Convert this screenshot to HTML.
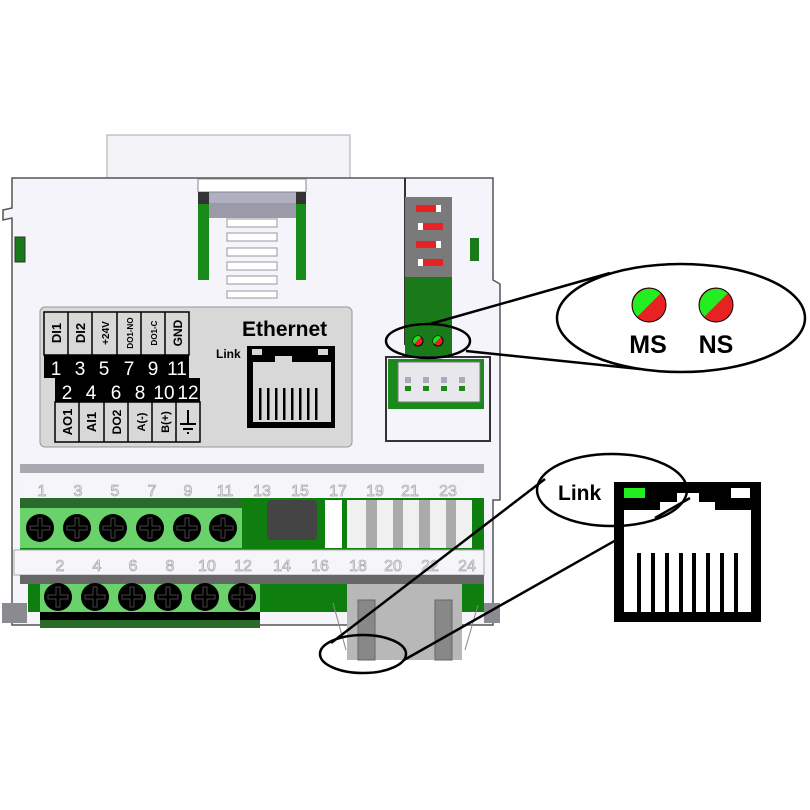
<!DOCTYPE html>
<html><head><meta charset="utf-8"><style>
html,body{margin:0;padding:0;background:#fff;}
svg{display:block;font-family:"Liberation Sans",sans-serif;}
</style></head><body>
<svg width="810" height="810" viewBox="0 0 810 810" xmlns="http://www.w3.org/2000/svg">
<defs>
<g id="sc"><circle r="14" fill="#000"/><path d="M-2,-10 H2 V-2 H10 V2 H2 V10 H-2 V2 H-10 V-2 H-2 Z" fill="none" stroke="#444" stroke-width="1"/></g>
</defs>
<rect x="107" y="135" width="243" height="44" fill="#f3f3f8" stroke="#aaa" stroke-width="1"/>
<path d="M12,178 H493 V280 L500,284 V500 L493,500 V625 H12 V218 L3,220 V210 L12,208 Z" fill="#f4f4fa" stroke="#555" stroke-width="1.5"/>
<line x1="405" y1="178" x2="405" y2="345" stroke="#333" stroke-width="2"/>
<rect x="15" y="237" width="10" height="25" fill="#1a7a1a" stroke="#333"/>
<rect x="470" y="238" width="9" height="23" fill="#1a7a1a"/>
<rect x="198" y="179" width="108" height="13" fill="#fff" stroke="#888"/>
<rect x="198" y="192" width="108" height="26" fill="#9a9aa8"/>
<rect x="209" y="193" width="87" height="10" fill="#b0b0c0"/>
<rect x="198" y="192" width="11" height="88" fill="#1a8a1a"/>
<rect x="296" y="192" width="10" height="88" fill="#1a8a1a"/>
<rect x="198" y="192" width="11" height="12" fill="#333"/>
<rect x="296" y="192" width="10" height="12" fill="#333"/>
<g fill="#fff" stroke="#999">
<rect x="227" y="219" width="50" height="8"/><rect x="227" y="233" width="50" height="8"/><rect x="227" y="248" width="50" height="8"/><rect x="227" y="262" width="50" height="8"/><rect x="227" y="276" width="50" height="8"/><rect x="227" y="291" width="50" height="7"/>
</g>
<rect x="405" y="197" width="47" height="80" fill="#7a7a7a"/>
<rect x="405" y="277" width="47" height="83" fill="#1a7a1a"/>
<g fill="#e82222"><rect x="416" y="205" width="20" height="7"/><rect x="423" y="223" width="20" height="7"/><rect x="416" y="241" width="20" height="7"/><rect x="423" y="259" width="20" height="7"/></g>
<g fill="#fff"><rect x="436" y="205" width="5" height="7"/><rect x="418" y="223" width="5" height="7"/><rect x="436" y="241" width="5" height="7"/><rect x="418" y="259" width="5" height="7"/></g>
<circle cx="418" cy="341" r="5" fill="#e82222" stroke="#000"/><circle cx="438" cy="341" r="5" fill="#e82222" stroke="#000"/>
<path d="M414,344 A5,5 0 0 1 421,337 Z" fill="#22dd22"/><path d="M434,344 A5,5 0 0 1 441,337 Z" fill="#22dd22"/>
<rect x="386" y="357" width="104" height="84" fill="#f4f4fa" stroke="#333" stroke-width="2"/>
<rect x="388" y="359" width="96" height="50" fill="#1a8a1a"/>
<rect x="398" y="362" width="82" height="40" fill="#e8e8ec" stroke="#777"/>
<g fill="#aab"><rect x="405" y="377" width="6" height="6"/><rect x="423" y="377" width="6" height="6"/><rect x="441" y="377" width="6" height="6"/><rect x="459" y="377" width="6" height="6"/></g>
<g fill="#1a8a1a"><rect x="405" y="386" width="6" height="5"/><rect x="423" y="386" width="6" height="5"/><rect x="441" y="386" width="6" height="5"/><rect x="459" y="386" width="6" height="5"/></g>
<rect x="40" y="307" width="312" height="140" rx="5" fill="#d8d8d8" stroke="#999"/>
<g stroke="#000" stroke-width="1.5" fill="#d8d8d8">
<rect x="44" y="312" width="145" height="43"/>
<rect x="55" y="402" width="145" height="40"/>
</g>
<rect x="44" y="355" width="145" height="23" fill="#000"/>
<rect x="55" y="378" width="145" height="24" fill="#000"/>
<g stroke="#000" stroke-width="1.5">
<line x1="68" y1="312" x2="68" y2="355"/><line x1="92" y1="312" x2="92" y2="355"/><line x1="117" y1="312" x2="117" y2="355"/><line x1="141" y1="312" x2="141" y2="355"/><line x1="165" y1="312" x2="165" y2="355"/>
<line x1="79" y1="402" x2="79" y2="442"/><line x1="104" y1="402" x2="104" y2="442"/><line x1="128" y1="402" x2="128" y2="442"/><line x1="152" y1="402" x2="152" y2="442"/><line x1="176" y1="402" x2="176" y2="442"/>
</g>
<g fill="#fff" font-size="19" text-anchor="middle">
<text x="56" y="375">1</text><text x="80" y="375">3</text><text x="104" y="375">5</text><text x="129" y="375">7</text><text x="153" y="375">9</text><text x="177" y="375">11</text>
<text x="67" y="399">2</text><text x="91" y="399">4</text><text x="116" y="399">6</text><text x="140" y="399">8</text><text x="164" y="399">10</text><text x="188" y="399">12</text>
</g>
<g font-weight="bold" font-size="13" text-anchor="middle">
<text transform="translate(61,333) rotate(-90)">DI1</text>
<text transform="translate(85,333) rotate(-90)">DI2</text>
<text transform="translate(109,333) rotate(-90)" font-size="10">+24V</text>
<text transform="translate(133,333) rotate(-90)" font-size="8">DO1-NO</text>
<text transform="translate(157,333) rotate(-90)" font-size="8">DO1-C</text>
<text transform="translate(182,333) rotate(-90)" font-size="12">GND</text>
<text transform="translate(72,422) rotate(-90)">AO1</text>
<text transform="translate(96,422) rotate(-90)">AI1</text>
<text transform="translate(121,422) rotate(-90)" font-size="12">DO2</text>
<text transform="translate(145,422) rotate(-90)" font-size="11">A(-)</text>
<text transform="translate(169,422) rotate(-90)" font-size="11">B(+)</text>
</g>
<g stroke="#000" stroke-width="2"><line x1="188" y1="410" x2="188" y2="424"/><line x1="180" y1="424" x2="196" y2="424"/><line x1="183" y1="429" x2="193" y2="429"/><line x1="187" y1="433" x2="189" y2="433"/></g>
<text x="242" y="336" font-size="21" font-weight="bold">Ethernet</text>
<text x="216" y="358" font-size="12" font-weight="bold">Link</text>
<rect x="247" y="346" width="88" height="82" fill="#000"/>
<path d="M253,362 H275 V356 H292 V362 H331 V422 H253 Z" fill="#d8d8d8"/>
<rect x="252" y="349" width="10" height="6" fill="#d8d8d8"/><rect x="318" y="349" width="10" height="6" fill="#d8d8d8"/>
<g fill="#000"><rect x="259" y="388" width="2.5" height="32"/><rect x="267" y="388" width="2.5" height="32"/><rect x="275" y="388" width="2.5" height="32"/><rect x="283" y="388" width="2.5" height="32"/><rect x="291" y="388" width="2.5" height="32"/><rect x="299" y="388" width="2.5" height="32"/><rect x="307" y="388" width="2.5" height="32"/><rect x="315" y="388" width="2.5" height="32"/></g>
<rect x="20" y="464" width="464" height="9" fill="#a8a8b0"/>
<rect x="20" y="473" width="464" height="25" fill="#f6f6fa"/>
<rect x="20" y="498" width="464" height="52" fill="#0e7e0e"/>
<rect x="20" y="498" width="222" height="10" fill="#2a6a2a"/>
<rect x="20" y="508" width="222" height="40" fill="#6ad26a"/>
<rect x="267" y="500" width="50" height="40" rx="4" fill="#444"/>
<rect x="325" y="500" width="17" height="48" fill="#fff"/>
<rect x="347" y="500" width="125" height="48" fill="#f0f0f0"/>
<g fill="#aaa"><rect x="366" y="500" width="11" height="48"/><rect x="393" y="500" width="10" height="48"/><rect x="419" y="500" width="11" height="48"/><rect x="446" y="500" width="10" height="48"/></g>
<rect x="14" y="550" width="470" height="25" fill="#f6f6fa" stroke="#aaa"/>
<rect x="20" y="575" width="464" height="9" fill="#666"/>
<rect x="28" y="584" width="456" height="28" fill="#0e7e0e"/>
<rect x="40" y="584" width="220" height="28" fill="#6ad26a"/>
<rect x="40" y="612" width="220" height="8" fill="#000"/>
<rect x="40" y="620" width="220" height="8" fill="#2a6a2a"/>
<rect x="2" y="603" width="25" height="20" fill="#8a8a90"/>
<rect x="484" y="603" width="16" height="20" fill="#8a8a90"/>
<use href="#sc" x="40" y="528"/><use href="#sc" x="77" y="528"/><use href="#sc" x="113" y="528"/><use href="#sc" x="150" y="528"/><use href="#sc" x="187" y="528"/><use href="#sc" x="223" y="528"/>
<use href="#sc" x="58" y="597"/><use href="#sc" x="95" y="597"/><use href="#sc" x="132" y="597"/><use href="#sc" x="168" y="597"/><use href="#sc" x="205" y="597"/><use href="#sc" x="242" y="597"/>
<rect x="347" y="584" width="115" height="76" fill="#b8b8b8"/>
<rect x="358" y="600" width="17" height="60" fill="#888" stroke="#666"/>
<rect x="435" y="600" width="17" height="60" fill="#888" stroke="#666"/>
<g fill="#fff" stroke="#aaa" stroke-width="0.8" font-size="16" text-anchor="middle">
<text x="42" y="496">1</text><text x="78" y="496">3</text><text x="115" y="496">5</text><text x="152" y="496">7</text><text x="188" y="496">9</text><text x="225" y="496">11</text><text x="262" y="496">13</text><text x="300" y="496">15</text><text x="338" y="496">17</text><text x="375" y="496">19</text><text x="410" y="496">21</text><text x="448" y="496">23</text>
<text x="60" y="571">2</text><text x="97" y="571">4</text><text x="133" y="571">6</text><text x="170" y="571">8</text><text x="207" y="571">10</text><text x="243" y="571">12</text><text x="282" y="571">14</text><text x="320" y="571">16</text><text x="358" y="571">18</text><text x="393" y="571">20</text><text x="430" y="571">22</text><text x="467" y="571">24</text>
</g>
<line x1="333" y1="603" x2="346" y2="650" stroke="#888"/>
<line x1="478" y1="605" x2="465" y2="650" stroke="#888"/>
<g fill="none" stroke="#000" stroke-width="2.5">
<ellipse cx="428" cy="341" rx="42" ry="17"/>
<ellipse cx="681" cy="318" rx="124" ry="54"/>
<line x1="430" y1="324" x2="610" y2="273"/>
<line x1="466" y1="351" x2="640" y2="369"/>
<ellipse cx="363" cy="654" rx="43" ry="19"/>
<line x1="331" y1="643" x2="545" y2="479"/>
<line x1="404" y1="660" x2="655" y2="518"/>
</g>
<circle cx="649" cy="305" r="17" fill="#e82222"/>
<path d="M637,317 A17,17 0 0 1 661,293 Z" fill="#22ee22"/>
<circle cx="649" cy="305" r="17" fill="none" stroke="#000"/>
<circle cx="716" cy="305" r="17" fill="#e82222"/>
<path d="M704,317 A17,17 0 0 1 728,293 Z" fill="#22ee22"/>
<circle cx="716" cy="305" r="17" fill="none" stroke="#000"/>
<text x="648" y="353" font-size="25" font-weight="bold" text-anchor="middle">MS</text>
<text x="716" y="353" font-size="25" font-weight="bold" text-anchor="middle">NS</text>
<text x="558" y="500" font-size="21" font-weight="bold">Link</text>
<rect x="614" y="482" width="147" height="140" fill="#000"/>
<path d="M624,510 H660 V502 H677 V493 H699 V502 H715 V510 H751 V612 H624 Z" fill="#fff"/>
<rect x="624" y="488" width="21" height="10" fill="#22ee22"/>
<rect x="731" y="488" width="19" height="10" fill="#fff"/>
<g fill="#000"><rect x="637" y="553" width="4" height="60"/><rect x="651" y="553" width="4" height="60"/><rect x="665" y="553" width="4" height="60"/><rect x="679" y="553" width="4" height="60"/><rect x="692" y="553" width="4" height="60"/><rect x="706" y="553" width="4" height="60"/><rect x="720" y="553" width="4" height="60"/><rect x="734" y="553" width="4" height="60"/></g>
<ellipse cx="612" cy="490" rx="75" ry="36" fill="none" stroke="#000" stroke-width="2.5"/>
<line x1="655" y1="518" x2="690" y2="498" stroke="#000" stroke-width="2.5"/>
</svg>
</body></html>
